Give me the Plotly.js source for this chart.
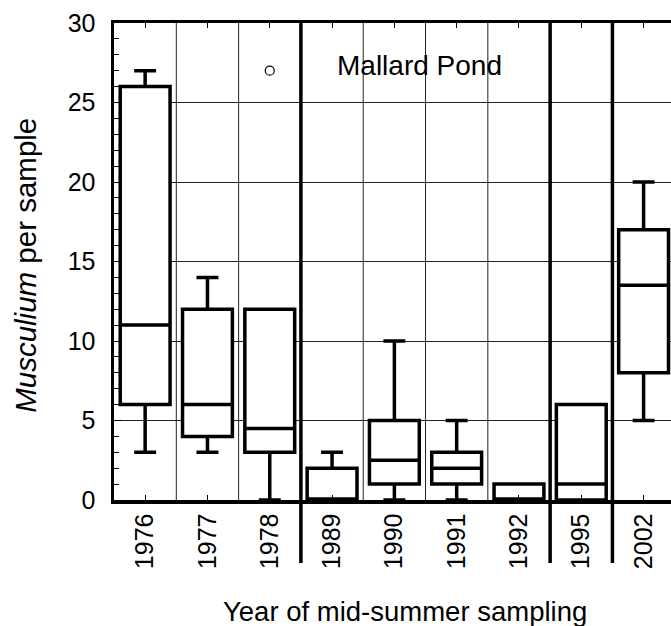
<!DOCTYPE html>
<html>
<head>
<meta charset="utf-8">
<script src="https://cdn.plot.ly/plotly-3.0.1.min.js"></script>
<style>html,body{margin:0;padding:0;background:#fff;overflow:hidden;}</style>
</head>
<body>
<div id="chart" style="width:671px;height:626px;"></div>
<script>
// Data
const years = ['1976','1977','1978','1989','1990','1991','1992','1995','2002'];
const lowerWhisker = [3, 3, 0, 0, 0, 0, 0, 0, 5];
const q1Values     = [6, 4, 3, 0, 1, 1, 0, 0, 8];
const medians      = [11, 6, 4.5, 0, 2.5, 2, 0, 1, 13.5];
const q3Values     = [26, 12, 12, 2, 5, 3, 1, 6, 17];
const upperWhisker = [27, 14, 12, 3, 10, 5, 1, 6, 20];
const outlierYears  = ['1978'];
const outlierValues = [27];
const yTicks = [0, 5, 10, 15, 20, 25, 30];

const FONT = '"Liberation Sans", Arial, Helvetica, sans-serif';

const traces = [
  {
    type: 'box',
    x: years,
    q1: q1Values,
    median: medians,
    q3: q3Values,
    lowerfence: lowerWhisker,
    upperfence: upperWhisker,
    boxpoints: false,
    width: 0.8,
    whiskerwidth: 0.44,
    fillcolor: '#ffffff',
    line: {color: '#000000', width: 3.5},
    hoverinfo: 'skip',
    showlegend: false
  },
  {
    type: 'scatter',
    mode: 'markers',
    x: outlierYears,
    y: outlierValues,
    marker: {symbol: 'circle-open', size: 9, color: '#000000', line: {width: 1.2, color: '#000000'}},
    hoverinfo: 'skip',
    showlegend: false
  }
];

// boundaries between categories: thin grid lines, thick where the sampling years are not consecutive
const shapes = [];
for (let i = 0; i < years.length - 1; i++) {
  const gap = Number(years[i + 1]) - Number(years[i]);
  if (gap > 1) {
    shapes.push({type: 'line', xref: 'x', yref: 'paper', x0: i + 0.5, x1: i + 0.5, y0: -0.132, y1: 1,
      line: {color: '#000000', width: 3.5}, layer: 'above'});
  } else {
    shapes.push({type: 'line', xref: 'x', yref: 'paper', x0: i + 0.5, x1: i + 0.5, y0: 0, y1: 1,
      line: {color: '#222222', width: 1}, layer: 'below'});
  }
}

const layout = {
  width: 671,
  height: 626,
  margin: {l: 114, r: 0, t: 23, b: 126, pad: 0},
  paper_bgcolor: '#ffffff',
  plot_bgcolor: '#ffffff',
  font: {family: FONT, color: '#000000', size: 25},
  showlegend: false,
  xaxis: {
    type: 'category',
    categoryorder: 'array',
    categoryarray: years,
    range: [-0.5, 8.44],
    showgrid: false,
    zeroline: false,
    showline: true,
    linewidth: 3.5,
    linecolor: '#000000',
    mirror: 'ticks',
    ticks: 'inside',
    ticklen: 5,
    tickwidth: 1,
    tickcolor: '#000000',
    tickangle: -90,
    ticklabelstandoff: 0,
    tickfont: {family: FONT, size: 25, color: '#000000'},
    fixedrange: true
  },
  yaxis: {
    range: [0, 30],
    tickvals: yTicks,
    ticktext: yTicks.map(String),
    showgrid: true,
    gridcolor: '#222222',
    gridwidth: 1,
    zeroline: false,
    showline: true,
    linewidth: 3.5,
    linecolor: '#000000',
    mirror: false,
    ticks: 'inside',
    ticklen: 8,
    tickwidth: 1,
    tickcolor: '#000000',
    ticklabelstandoff: 10,
    tickfont: {family: FONT, size: 25, color: '#000000'},
    minor: {dtick: 1, ticks: 'inside', ticklen: 5, tickwidth: 1, tickcolor: '#000000', showgrid: false},
    fixedrange: true
  },
  shapes: shapes,
  annotations: [
    {text: 'Mallard Pond', xref: 'paper', yref: 'paper', x: 0.549, y: 0.91,
     xanchor: 'center', yanchor: 'middle', showarrow: false,
     font: {family: FONT, size: 28, color: '#000000'}},
    {text: '<i>Musculium</i> per sample', xref: 'paper', yref: 'paper', x: -0.158, y: 0.493,
     xanchor: 'center', yanchor: 'middle', textangle: -90, showarrow: false,
     font: {family: FONT, size: 29.5, color: '#000000'}},
    {text: 'Year of mid-summer sampling', xref: 'paper', yref: 'paper', x: 0.522, y: -0.233,
     xanchor: 'center', yanchor: 'middle', showarrow: false,
     font: {family: FONT, size: 27.5, color: '#000000'}}
  ]
};

Plotly.newPlot('chart', traces, layout, {displayModeBar: false, staticPlot: true});
</script>
</body>
</html>
